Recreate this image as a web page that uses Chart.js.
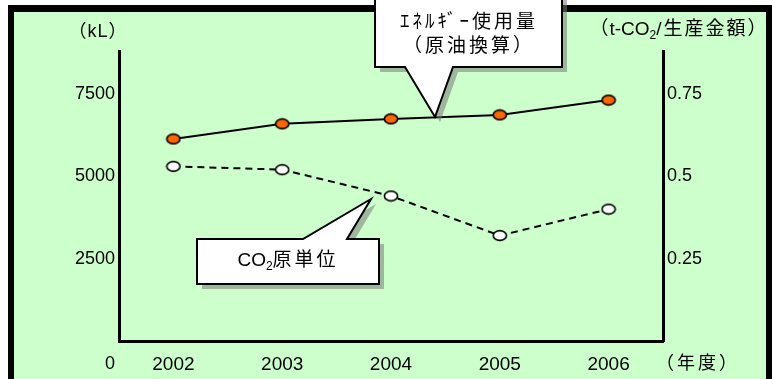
<!DOCTYPE html>
<html>
<head>
<meta charset="utf-8">
<script src="https://cdn.jsdelivr.net/npm/chart.js@4.4.1/dist/chart.umd.min.js"></script>
<style>
  html, body { margin: 0; padding: 0; background: #fff; }
  canvas { display: block; }
</style>
</head>
<body>
<canvas id="chart" width="772" height="379"></canvas>
<script>
// Data
const years = ['2002', '2003', '2004', '2005', '2006'];
const energyKL = [6130, 6590, 6740, 6860, 7310];   // エネルギー使用量（原油換算） kL
const co2Unit = [0.53, 0.52, 0.44, 0.32, 0.40];     // CO2原単位 t-CO2/生産金額
const leftTicks = [0, 2500, 5000, 7500];
const rightTicks = [0.25, 0.5, 0.75];

const NUM_FONT = '"Liberation Sans", Arial, sans-serif';
const JP_FONT = '"Liberation Sans", "Noto Sans CJK JP", sans-serif';

// ellipse shaped markers like the original
function makeDot(fill) {
  const c = document.createElement('canvas');
  c.width = 16;
  c.height = 13;
  const g = c.getContext('2d');
  g.beginPath();
  g.ellipse(8, 6.5, 6.6, 4.9, 0, 0, Math.PI * 2);
  g.fillStyle = fill;
  g.fill();
  g.lineWidth = 1.6;
  g.strokeStyle = '#000';
  g.stroke();
  return c;
}

// text with a subscript part, e.g. CO2; sp = letter spacing for that part
function drawRich(ctx, parts, x, y, size) {
  const setFont = p => {
    ctx.font = (p.sub ? Math.round(size * 0.65) : size) + 'px ' + JP_FONT;
    ctx.letterSpacing = (p.sp || 0) + 'px';
  };
  const widths = parts.map(p => {
    setFont(p);
    return ctx.measureText(p.t).width;
  });
  let cx = x - widths.reduce((a, b) => a + b, 0) / 2;
  ctx.textAlign = 'left';
  ctx.textBaseline = 'middle';
  parts.forEach((p, i) => {
    setFont(p);
    ctx.fillText(p.t, cx, p.sub ? y + 6 : y);
    cx += widths[i];
  });
  ctx.letterSpacing = '0px';
}

function calloutPath(ctx, pts, dx, dy) {
  ctx.beginPath();
  pts.forEach((p, i) => {
    if (i === 0) ctx.moveTo(p[0] + dx, p[1] + dy);
    else ctx.lineTo(p[0] + dx, p[1] + dy);
  });
  ctx.closePath();
}

function drawCallout(ctx, pts) {
  ctx.save();
  calloutPath(ctx, pts, 5, 5);
  ctx.fillStyle = 'rgba(120,120,120,0.55)';
  ctx.fill();
  calloutPath(ctx, pts, 0, 0);
  ctx.fillStyle = '#fff';
  ctx.fill();
  ctx.lineWidth = 2;
  ctx.strokeStyle = '#000';
  ctx.lineJoin = 'miter';
  ctx.stroke();
  ctx.restore();
}

// green panel with thick black frame
const panelPlugin = {
  id: 'panel',
  beforeDraw(chart) {
    const ctx = chart.ctx;
    ctx.save();
    ctx.fillStyle = '#CCFFCC';
    ctx.fillRect(8, 5, 762, 374);
    ctx.fillStyle = '#000';
    ctx.fillRect(8, 5, 6, 374);
    ctx.fillRect(8, 5, 762, 7);
    ctx.fillRect(766, 5, 6, 374);
    ctx.restore();
  },
  afterDraw(chart) {
    const ctx = chart.ctx;
    const yScale = chart.scales.y;
    ctx.save();
    ctx.fillStyle = '#000';

    // the zero of the left axis sits on the year row
    ctx.font = '18px ' + NUM_FONT;
    ctx.textAlign = 'right';
    ctx.textBaseline = 'middle';
    ctx.fillText(String(leftTicks[0]), yScale.right - 4, 364);

    // axis titles
    drawRich(ctx, [{ t: '（kL）', sp: 1 }], 98, 32, 18);
    drawRich(ctx, [{ t: '（年度）', sp: 3 }], 698, 364, 18);
    drawRich(ctx, [{ t: '（', sp: 1 }, { t: 't-CO' }, { t: '2', sub: true }, { t: '/生産金額）', sp: 2 }], 679, 30, 19);

    // callouts
    drawCallout(ctx, [[375, -10], [562, -10], [562, 67], [453, 67], [435, 117], [405, 67], [375, 67]]);
    drawCallout(ctx, [[197, 239], [303, 239], [371, 199], [347, 239], [379, 239], [379, 284], [197, 284]]);

    ctx.fillStyle = '#000';
    ctx.font = '19px "Noto Sans CJK JP", sans-serif';
    ctx.letterSpacing = '3px';
    ctx.textAlign = 'center';
    ctx.textBaseline = 'middle';
    ctx.fillText('ｴﾈﾙｷﾞｰ使用量', 469, 21);
    ctx.fillText('（原油換算）', 469, 45);
    ctx.letterSpacing = '0px';
    drawRich(ctx, [{ t: 'CO' }, { t: '2', sub: true }, { t: '原単位', sp: 3 }], 288, 261, 19);
    ctx.restore();
  }
};

const ctx = document.getElementById('chart').getContext('2d');
new Chart(ctx, {
  type: 'line',
  data: {
    labels: years,
    datasets: [
      {
        label: 'エネルギー使用量（原油換算）',
        data: energyKL,
        yAxisID: 'y',
        borderColor: '#000',
        borderWidth: 2,
        pointStyle: makeDot('#FF6600'),
        tension: 0,
      },
      {
        label: 'CO2原単位',
        data: co2Unit,
        yAxisID: 'y1',
        borderColor: '#000',
        borderWidth: 2,
        borderDash: [7, 5],
        pointStyle: makeDot('#FFFFFF'),
        tension: 0,
      },
    ],
  },
  options: {
    responsive: false,
    animation: false,
    devicePixelRatio: 1,
    layout: { padding: { top: 51, left: 0, right: 0, bottom: 0 } },
    plugins: { legend: { display: false }, tooltip: { enabled: false } },
    scales: {
      x: {
        offset: true,
        grid: { display: false, drawTicks: false },
        border: { display: true, color: '#000', width: 3 },
        ticks: { color: '#000', font: { size: 19, family: NUM_FONT }, padding: 12, maxRotation: 0 },
        afterFit(s) { s.height = 38; },
      },
      y: {
        position: 'left',
        min: 0,
        max: 8800,
        grid: { display: false, drawTicks: false },
        border: { display: true, color: '#000', width: 3 },
        ticks: { color: '#000', font: { size: 18, family: NUM_FONT }, padding: 4, callback: v => String(v) },
        afterBuildTicks(s) { s.ticks = leftTicks.filter(v => v > 0).map(v => ({ value: v })); },
        afterFit(s) { s.width = 119; },
      },
      y1: {
        position: 'right',
        min: 0,
        max: 0.88,
        grid: { display: false, drawTicks: false },
        border: { display: true, color: '#000', width: 3 },
        ticks: { color: '#000', font: { size: 18, family: NUM_FONT }, padding: 4, callback: v => String(v) },
        afterBuildTicks(s) { s.ticks = rightTicks.map(v => ({ value: v })); },
        afterFit(s) { s.width = 109; },
      },
    },
  },
  plugins: [panelPlugin],
});
</script>
</body>
</html>
